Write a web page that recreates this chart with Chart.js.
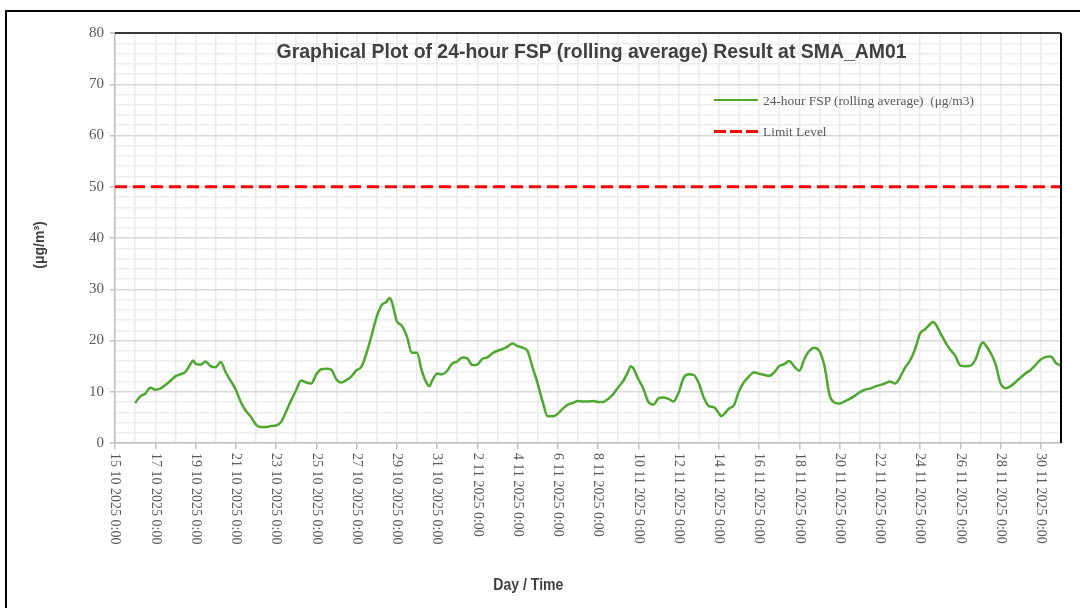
<!DOCTYPE html>
<html>
<head>
<meta charset="utf-8">
<script src="https://cdn.jsdelivr.net/npm/chart.js@4.4.1/dist/chart.umd.min.js"></script>
<style>
  html, body { margin: 0; padding: 0; background: #fff; }
  #wrap { position: relative; width: 1080px; height: 608px; overflow: hidden; }
  #frame { position: absolute; left: 5px; top: 10px; width: 1200px; height: 800px; border: 2px solid #000; box-sizing: border-box; }
  canvas { position: absolute; left: 0; top: 0; }
  .txt { position: absolute; white-space: pre; }
  .title { left: 192px; width: 800px; top: 39px; text-align: center; font: bold 21px "Liberation Sans Narrow", "Arial Narrow", "Liberation Sans", sans-serif; color: #404040; }
  .xtitle { left: 428px; width: 200px; top: 575px; text-align: center; font: bold 17px "Liberation Sans Narrow", "Arial Narrow", "Liberation Sans", sans-serif; color: #404040; }
  .ytitle { left: 0; top: 236px; width: 80px; text-align: center; font: bold 14px "Liberation Sans", Arial, sans-serif; color: #404040; transform-origin: 40px 9px; transform: rotate(-90deg); }
  .leg { font: 13.4px "Liberation Serif", "Times New Roman", serif; color: #595959; left: 763px; }
  .legline { position: absolute; left: 714px; width: 44px; }
  .fit { display: inline-block; transform-origin: center center; }
</style>
</head>
<body>
<div id="wrap">
  <div id="frame"></div>
  <canvas id="fspChart" width="1080" height="608"></canvas>
  <div class="txt title"><span class="fit" data-w="630">Graphical Plot of 24-hour FSP (rolling average) Result at SMA_AM01</span></div>
  <div class="txt xtitle"><span class="fit" data-w="70">Day / Time</span></div>
  <div class="txt ytitle">(μg/m³)</div>
  <div class="legline" style="top:99px;height:0;border-top:2.5px solid #4ea72e;"></div>
  <div class="txt leg" style="top:93px;">24-hour FSP (rolling average)  (μg/m3)</div>
  <div class="legline" style="top:130px;height:3px;background:repeating-linear-gradient(to right,#ff0000 0 12px,transparent 12px 16px);"></div>
  <div class="txt leg" style="top:124px;">Limit Level</div>
</div>
<script>
// Sample times
const times = [
  "2025-10-16 00:00", "2025-10-16 06:00", "2025-10-16 12:00", "2025-10-16 18:00",
  "2025-10-17 00:00", "2025-10-17 06:00", "2025-10-17 12:00", "2025-10-17 18:00",
  "2025-10-18 00:00", "2025-10-18 06:00", "2025-10-18 12:00", "2025-10-18 18:00", "2025-10-18 21:00",
  "2025-10-19 00:00", "2025-10-19 06:00", "2025-10-19 12:00", "2025-10-19 18:00",
  "2025-10-20 00:00", "2025-10-20 06:00", "2025-10-20 12:00", "2025-10-20 18:00",
  "2025-10-21 00:00", "2025-10-21 06:00", "2025-10-21 12:00", "2025-10-21 18:00",
  "2025-10-22 00:00", "2025-10-22 06:00", "2025-10-22 12:00", "2025-10-22 18:00",
  "2025-10-23 00:00", "2025-10-23 06:00", "2025-10-23 12:00", "2025-10-23 18:00",
  "2025-10-24 00:00", "2025-10-24 06:00", "2025-10-24 12:00", "2025-10-24 18:00",
  "2025-10-25 00:00", "2025-10-25 06:00", "2025-10-25 12:00", "2025-10-25 18:00",
  "2025-10-26 00:00", "2025-10-26 06:00", "2025-10-26 12:00", "2025-10-26 18:00",
  "2025-10-27 00:00", "2025-10-27 06:00", "2025-10-27 12:00", "2025-10-27 18:00",
  "2025-10-28 00:00", "2025-10-28 06:00", "2025-10-28 12:00", "2025-10-28 15:00", "2025-10-28 18:00",
  "2025-10-29 00:00", "2025-10-29 06:00", "2025-10-29 12:00", "2025-10-29 18:00",
  "2025-10-30 00:00", "2025-10-30 06:00", "2025-10-30 12:00", "2025-10-30 15:00", "2025-10-30 18:00",
  "2025-10-31 00:00", "2025-10-31 06:00", "2025-10-31 12:00", "2025-10-31 18:00",
  "2025-11-01 00:00", "2025-11-01 06:00", "2025-11-01 12:00", "2025-11-01 18:00",
  "2025-11-02 00:00", "2025-11-02 06:00", "2025-11-02 12:00", "2025-11-02 18:00",
  "2025-11-03 00:00", "2025-11-03 06:00", "2025-11-03 12:00", "2025-11-03 18:00",
  "2025-11-04 00:00", "2025-11-04 06:00", "2025-11-04 12:00", "2025-11-04 18:00",
  "2025-11-05 00:00", "2025-11-05 06:00", "2025-11-05 12:00", "2025-11-05 18:00",
  "2025-11-06 00:00", "2025-11-06 06:00", "2025-11-06 12:00", "2025-11-06 18:00",
  "2025-11-07 00:00", "2025-11-07 06:00", "2025-11-07 12:00", "2025-11-07 18:00",
  "2025-11-08 00:00", "2025-11-08 06:00", "2025-11-08 12:00", "2025-11-08 18:00",
  "2025-11-09 00:00", "2025-11-09 06:00", "2025-11-09 12:00", "2025-11-09 15:00", "2025-11-09 18:00",
  "2025-11-10 00:00", "2025-11-10 06:00", "2025-11-10 12:00", "2025-11-10 18:00",
  "2025-11-11 00:00", "2025-11-11 06:00", "2025-11-11 12:00", "2025-11-11 18:00",
  "2025-11-12 00:00", "2025-11-12 06:00", "2025-11-12 12:00", "2025-11-12 18:00",
  "2025-11-13 00:00", "2025-11-13 06:00", "2025-11-13 12:00", "2025-11-13 18:00",
  "2025-11-14 00:00", "2025-11-14 03:00", "2025-11-14 06:00", "2025-11-14 12:00", "2025-11-14 18:00",
  "2025-11-15 00:00", "2025-11-15 06:00", "2025-11-15 12:00", "2025-11-15 18:00",
  "2025-11-16 00:00", "2025-11-16 06:00", "2025-11-16 12:00", "2025-11-16 18:00",
  "2025-11-17 00:00", "2025-11-17 06:00", "2025-11-17 12:00", "2025-11-17 18:00",
  "2025-11-18 00:00", "2025-11-18 06:00", "2025-11-18 12:00", "2025-11-18 18:00",
  "2025-11-19 00:00", "2025-11-19 06:00", "2025-11-19 12:00", "2025-11-19 18:00",
  "2025-11-20 00:00", "2025-11-20 06:00", "2025-11-20 12:00", "2025-11-20 18:00",
  "2025-11-21 00:00", "2025-11-21 06:00", "2025-11-21 12:00", "2025-11-21 18:00",
  "2025-11-22 00:00", "2025-11-22 06:00", "2025-11-22 12:00", "2025-11-22 18:00",
  "2025-11-23 00:00", "2025-11-23 06:00", "2025-11-23 12:00", "2025-11-23 18:00",
  "2025-11-24 00:00", "2025-11-24 06:00", "2025-11-24 12:00", "2025-11-24 15:00", "2025-11-24 18:00",
  "2025-11-25 00:00", "2025-11-25 06:00", "2025-11-25 12:00", "2025-11-25 18:00",
  "2025-11-26 00:00", "2025-11-26 06:00", "2025-11-26 12:00", "2025-11-26 18:00",
  "2025-11-27 00:00", "2025-11-27 03:00", "2025-11-27 06:00", "2025-11-27 12:00", "2025-11-27 18:00",
  "2025-11-28 00:00", "2025-11-28 06:00", "2025-11-28 12:00", "2025-11-28 18:00",
  "2025-11-29 00:00", "2025-11-29 06:00", "2025-11-29 12:00", "2025-11-29 18:00",
  "2025-11-30 00:00", "2025-11-30 06:00", "2025-11-30 12:00", "2025-11-30 18:00",
  "2025-12-01 00:00"
];

// 24-hour FSP rolling average (ug/m3), same order as times
const fspValues = [
  7.8, 9.1, 9.6, 10.8,
  10.4, 10.6, 11.3, 12.1,
  13.0, 13.4, 13.9, 15.4, 16.1,
  15.5, 15.3, 15.9, 15.0,
  14.8, 15.8, 13.8, 12.1,
  10.4, 8.0, 6.3, 5.1,
  3.6, 3.1, 3.1, 3.3,
  3.4, 4.1, 6.1, 8.3,
  10.3, 12.2, 11.8, 11.6,
  13.4, 14.4, 14.5, 14.3,
  12.4, 11.8, 12.3, 13.0,
  14.2, 14.9, 17.6, 21.0,
  24.6, 26.9, 27.6, 28.3, 27.6,
  23.8, 22.9, 20.8, 17.6,
  17.6, 14.0, 11.6, 11.1, 12.1,
  13.5, 13.4, 14.1, 15.5,
  15.9, 16.7, 16.5, 15.2,
  15.3, 16.4, 16.7, 17.5,
  18.0, 18.3, 18.8, 19.4,
  18.9, 18.6, 17.9, 14.7,
  11.6, 8.0, 5.2, 5.2,
  5.7, 6.7, 7.5, 7.8,
  8.2, 8.1, 8.1, 8.2,
  8.0, 8.0, 8.6, 9.5,
  10.9, 12.1, 14.0, 15.0, 14.6,
  12.5, 10.6, 8.0, 7.5,
  8.7, 8.9, 8.6, 8.1,
  9.8, 12.7, 13.4, 13.3,
  11.7, 8.9, 7.2, 7.0,
  5.8, 5.2, 5.6, 6.7, 7.4,
  10.1, 11.9, 13.0, 13.8,
  13.5, 13.3, 13.1, 13.8,
  15.0, 15.4, 16.0, 14.9,
  14.1, 16.4, 18.0, 18.6,
  17.9, 15.0, 9.4, 7.9,
  7.7, 8.1, 8.6, 9.2,
  9.9, 10.4, 10.6, 11.0,
  11.3, 11.6, 12.0, 11.6,
  12.8, 14.7, 16.1, 18.3,
  21.4, 22.2, 23.2, 23.6, 23.3,
  21.5, 19.7, 18.2, 17.0,
  15.1, 15.0, 15.1, 16.3,
  19.0, 19.6, 19.1, 17.6, 15.4,
  11.6, 10.7, 11.1, 11.9,
  12.8, 13.6, 14.3, 15.3,
  16.3, 16.8, 16.9, 15.6,
  15.1
];

const limitLevel = 50;
const axisStart = "2025-10-15 00:00";
const axisEnd = "2025-12-01 00:00";

// x tick labels, every 2 days from axis start
const xTickLabels = [
  "15 10 2025 0:00", "17 10 2025 0:00", "19 10 2025 0:00", "21 10 2025 0:00",
  "23 10 2025 0:00", "25 10 2025 0:00", "27 10 2025 0:00", "29 10 2025 0:00",
  "31 10 2025 0:00", "2 11 2025 0:00", "4 11 2025 0:00", "6 11 2025 0:00",
  "8 11 2025 0:00", "10 11 2025 0:00", "12 11 2025 0:00", "14 11 2025 0:00",
  "16 11 2025 0:00", "18 11 2025 0:00", "20 11 2025 0:00", "22 11 2025 0:00",
  "24 11 2025 0:00", "26 11 2025 0:00", "28 11 2025 0:00", "30 11 2025 0:00"
];

function toMs(s) {
  const [date, time] = s.split(" ");
  const [y, m, d] = date.split("-").map(Number);
  const [hh, mm] = time.split(":").map(Number);
  return Date.UTC(y, m - 1, d, hh, mm);
}
// hours since axis start
function toHours(s) {
  return (toMs(s) - toMs(axisStart)) / 3600000;
}

const xMax = toHours(axisEnd);
const fspPoints = times.map((t, i) => ({ x: toHours(t), y: fspValues[i] }));

const serif = '"Liberation Serif", "Times New Roman", serif';

// squeeze the bold titles to the narrow width of the original
document.querySelectorAll(".fit").forEach(el => {
  const w = el.getBoundingClientRect().width;
  const target = +el.dataset.w;
  if (w > target) el.style.transform = `scaleX(${target / w})`;
});

// draws plot border (top/right) and the rotated date labels
const framePlugin = {
  id: "frame",
  afterDraw(chart) {
    const { ctx, chartArea, scales } = chart;
    ctx.save();
    ctx.strokeStyle = "#000";
    ctx.lineWidth = 1.5;
    ctx.beginPath();
    ctx.moveTo(chartArea.left, chartArea.top);
    ctx.lineTo(chartArea.right, chartArea.top);
    ctx.stroke();
    ctx.lineWidth = 2;
    ctx.beginPath();
    ctx.moveTo(chartArea.right, chartArea.top);
    ctx.lineTo(chartArea.right, chartArea.bottom);
    ctx.stroke();

    ctx.font = "14px " + serif;
    ctx.fillStyle = "#595959";
    ctx.textAlign = "left";
    ctx.textBaseline = "middle";
    xTickLabels.forEach((lab, i) => {
      const px = scales.x.getPixelForValue(i * 48);
      ctx.save();
      ctx.translate(px, chartArea.bottom + 10);
      ctx.rotate(Math.PI / 2);
      ctx.fillText(lab, 0, 0);
      ctx.restore();
    });
    ctx.restore();
  }
};

const chart = new Chart(document.getElementById("fspChart").getContext("2d"), {
  type: "line",
  data: {
    datasets: [
      {
        label: "24-hour FSP (rolling average)  (μg/m3)",
        data: fspPoints,
        borderColor: "#4ea72e",
        borderWidth: 2.5,
        pointRadius: 0,
        cubicInterpolationMode: "monotone",
        order: 1
      },
      {
        label: "Limit Level",
        data: [{ x: 0, y: limitLevel }, { x: xMax, y: limitLevel }],
        borderColor: "#ff0000",
        borderWidth: 3,
        borderDash: [12, 6],
        pointRadius: 0,
        order: 2
      }
    ]
  },
  options: {
    responsive: false,
    animation: false,
    devicePixelRatio: 1,
    layout: { padding: { top: 33, right: 19, left: 0, bottom: 0 } },
    plugins: { legend: { display: false }, title: { display: false }, tooltip: { enabled: false } },
    scales: {
      x: {
        type: "linear",
        min: 0,
        max: xMax,
        afterFit: (s) => { s.height = 165; },
        ticks: { stepSize: 24, display: false, autoSkip: false },
        grid: {
          color: "#ebebeb",
          lineWidth: 1.5,
          tickLength: 6,
          tickColor: (c) => (c.tick && c.tick.value % 48 === 0 ? "#bfbfbf" : "rgba(0,0,0,0)")
        },
        border: { color: "#bfbfbf", width: 1.5 }
      },
      y: {
        min: 0,
        max: 80,
        afterFit: (s) => { s.width = 115; },
        ticks: {
          stepSize: 2,
          autoSkip: false,
          padding: 6,
          color: "#595959",
          font: { family: serif, size: 15 },
          callback: (v) => (v % 10 === 0 ? v : "")
        },
        grid: {
          color: (c) => (c.tick && c.tick.value % 10 === 0 ? "#d9d9d9" : "#ededed"),
          lineWidth: 1.5,
          tickLength: 5,
          tickColor: (c) => (c.tick && c.tick.value % 10 === 0 ? "#bfbfbf" : "rgba(0,0,0,0)")
        },
        border: { color: "#bfbfbf", width: 1.5 }
      }
    }
  },
  plugins: [framePlugin]
});
</script>
</body>
</html>
